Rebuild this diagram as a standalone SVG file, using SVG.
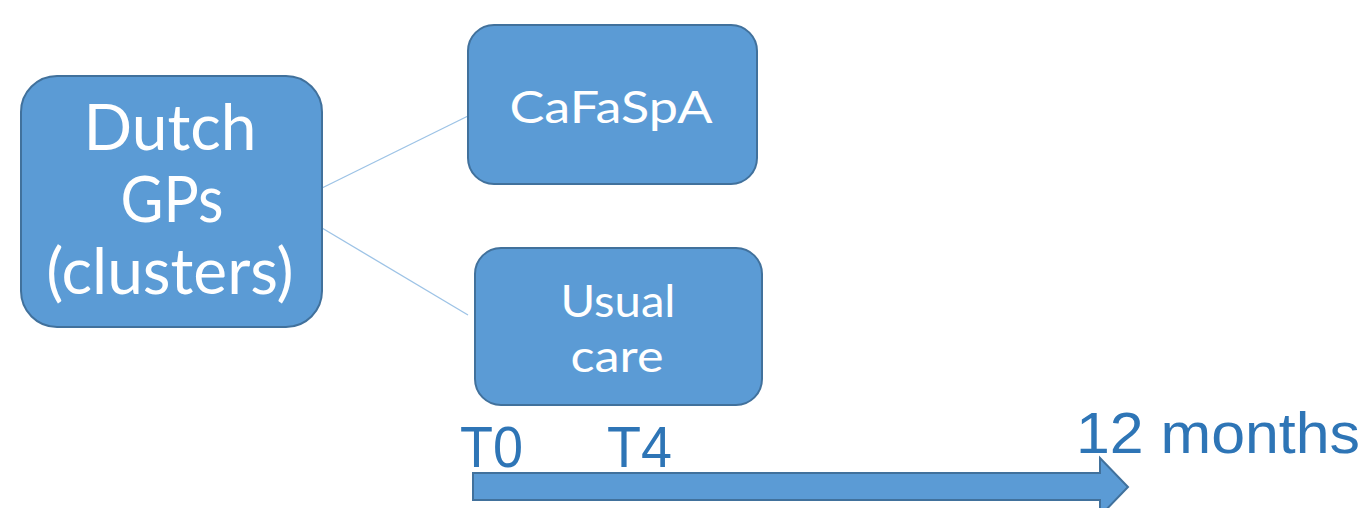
<svg xmlns="http://www.w3.org/2000/svg" width="1367" height="508" viewBox="0 0 1367 508">
  <style>
    .box { fill: #5B9BD5; stroke: #41719C; stroke-width: 2; }
    .label { fill: #FFFFFF; font-family: Lato, "Open Sans", "Liberation Sans", sans-serif; text-anchor: middle; }
    .link { stroke: #9DC3E6; stroke-width: 1.3; fill: none; }
    .time { fill: #2E75B6; font-family: "Liberation Sans", Arial, sans-serif; font-size: 58px; }
  </style>
  <rect width="1367" height="508" fill="#FFFFFF"/>

  <g id="connectors">
    <line class="link" x1="322" y1="188" x2="468" y2="116"/>
    <line class="link" x1="322" y1="228" x2="468" y2="315"/>
  </g>

  <g id="dutch-gps">
    <rect class="box" x="21" y="76" width="301" height="251" rx="36" ry="36"/>
    <text class="label" font-size="64" x="170" y="150">Dutch</text>
    <text class="label" font-size="64" x="172" y="222" textLength="103" lengthAdjust="spacingAndGlyphs">GPs</text>
    <text class="label" font-size="64" x="170" y="294">(clusters)</text>
  </g>

  <g id="cafaspa">
    <rect class="box" x="468" y="25" width="289" height="159" rx="26" ry="26"/>
    <text class="label" font-size="44" x="611" y="123" textLength="203" lengthAdjust="spacingAndGlyphs">CaFaSpA</text>
  </g>

  <g id="usual-care">
    <rect class="box" x="475" y="248" width="287" height="157" rx="26" ry="26"/>
    <text class="label" font-size="44" x="618" y="317" textLength="115" lengthAdjust="spacingAndGlyphs">Usual</text>
    <text class="label" font-size="44" x="617" y="372" textLength="93" lengthAdjust="spacingAndGlyphs">care</text>
  </g>

  <g id="timeline">
    <polygon class="box" points="473,473 1100,473 1100,458 1128,487 1100,516 1100,500 473,500"/>
    <text class="time" x="460" y="467" textLength="63" lengthAdjust="spacingAndGlyphs">T0</text>
    <text class="time" x="607" y="467" textLength="65" lengthAdjust="spacingAndGlyphs">T4</text>
    <text class="time" x="1076" y="453" textLength="284" lengthAdjust="spacingAndGlyphs">12 months</text>
  </g>
</svg>
